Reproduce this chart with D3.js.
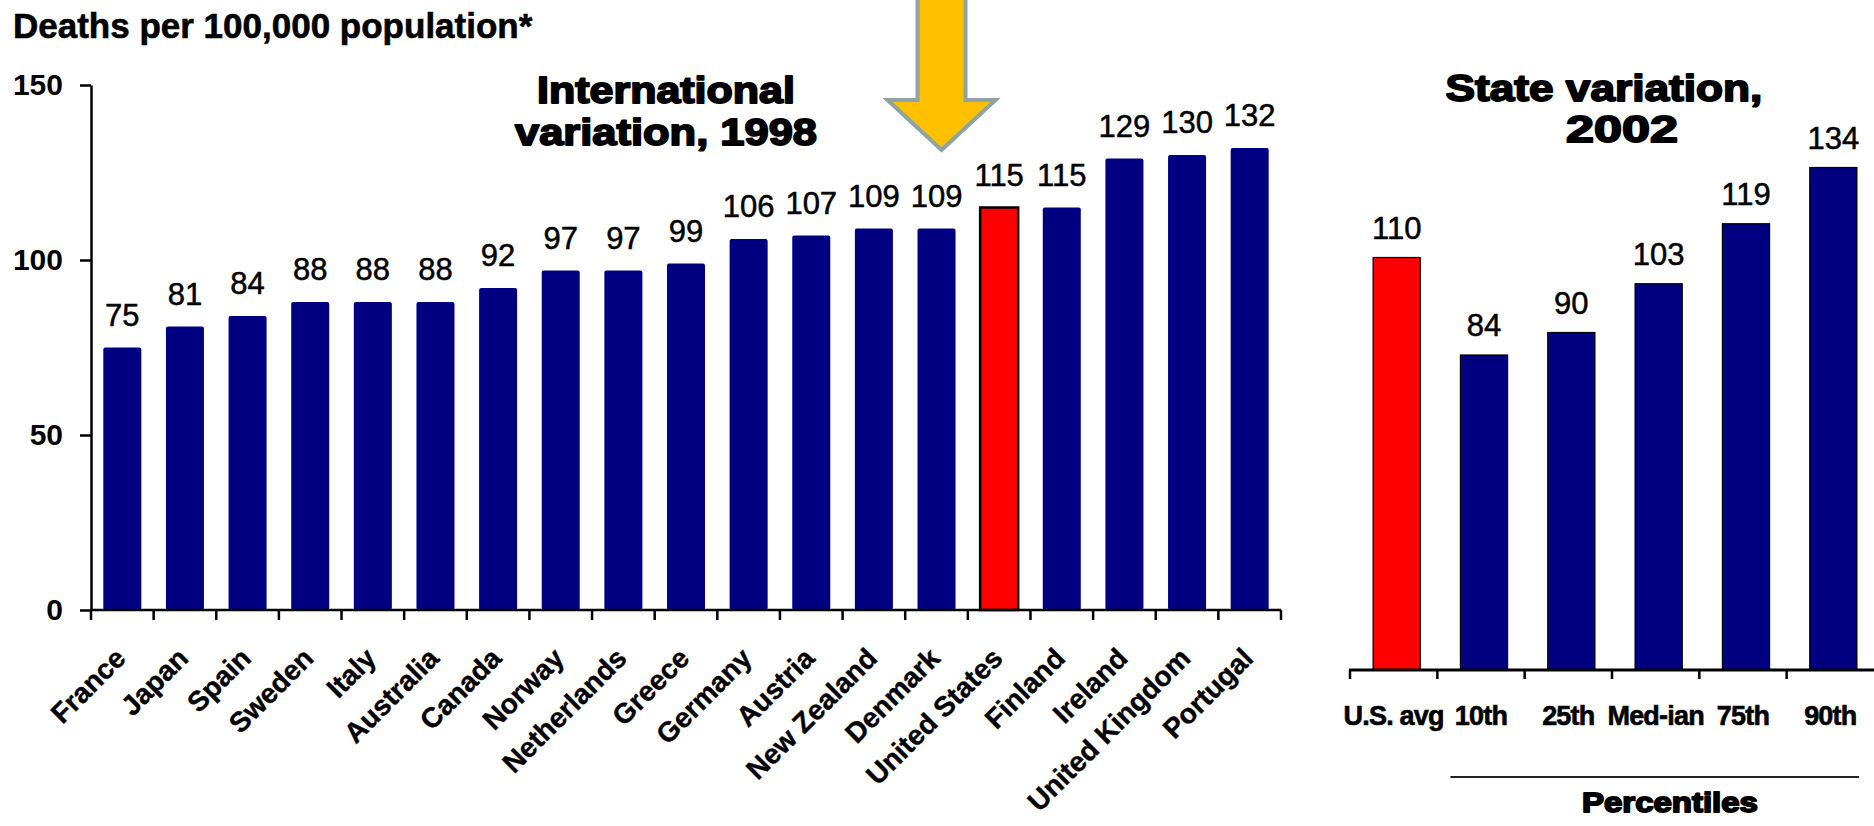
<!DOCTYPE html>
<html><head><meta charset="utf-8">
<script src="https://cdn.jsdelivr.net/npm/d3@7"></script>
<style>
body{margin:0;background:#fff;}
svg{display:block;font-family:"Liberation Sans",Arial,Helvetica,sans-serif;}
</style>
</head><body>
<svg id="c" width="1874" height="826"></svg>
<script>
// ---- data ----
const countries = ["France","Japan","Spain","Sweden","Italy","Australia","Canada","Norway","Netherlands","Greece","Germany","Austria","New Zealand","Denmark","United States","Finland","Ireland","United Kingdom","Portugal"];
const countryValues = [75,81,84,88,88,88,92,97,97,99,106,107,109,109,115,115,129,130,132];
const stateCategories = ["U.S. avg","10th","25th","Med-ian","75th","90th"];
const stateValues = [110,84,90,103,119,134];
const yTicks = [0,50,100,150];
const highlighted = ["United States","U.S. avg"];
const yTitle = "Deaths per 100,000 population*";
const leftTitle = ["International","variation, 1998"];
const rightTitle = ["State variation,","2002"];
const groupLabel = "Percentiles";
const arrowTarget = "Denmark";

// ---- styles ----
const NAVY = "#000080", RED = "#ff0000";
const svg = d3.select("#c");

// heavy (Arial Black-like) centred text: bold + stroke, glyphs stretched to a target width
function heavy(parent, str, cx, y, size, width){
  const t = parent.append("text").attr("x",0).attr("y",0)
    .attr("font-size",size).attr("font-weight","bold")
    .attr("stroke","#000").attr("stroke-width",1.8).attr("stroke-linejoin","round")
    .text(str);
  const w = t.node().getComputedTextLength();
  const s = width / w;
  t.attr("transform",`translate(${cx - width/2},${y}) scale(${s},1)`);
  return t;
}

// ---- y title ----
svg.append("text").attr("x",13).attr("y",38).attr("font-size",35).attr("font-weight","bold")
  .attr("stroke","#000").attr("stroke-width",0.6).text(yTitle);

// ================= LEFT CHART =================
const x1 = d3.scaleBand().domain(countries).range([91,1281]).paddingInner(0.393).paddingOuter(0.1965);
const y1 = d3.scaleLinear().domain([0,150]).range([610,85]);
const bw1 = x1.bandwidth();
const left = svg.append("g");
const d1 = countries.map((c,i)=>({c, v:countryValues[i]}));

left.selectAll("rect.bar").data(d1).join("rect")
  .attr("class","bar")
  .attr("x",d=>x1(d.c)).attr("y",d=>y1(d.v))
  .attr("width",bw1).attr("height",d=>y1(0)-y1(d.v))
  .attr("fill",d=>highlighted.includes(d.c)?RED:NAVY)
  .attr("stroke",d=>highlighted.includes(d.c)?"#000":"none")
  .attr("stroke-width",2.5)
  .attr("rx",d=>highlighted.includes(d.c)?0:2);

left.selectAll("text.val").data(d1).join("text")
  .attr("class","val")
  .attr("x",d=>x1(d.c)+bw1/2).attr("y",d=>y1(d.v)-22)
  .attr("text-anchor","middle").attr("font-size",31)
  .attr("stroke","#000").attr("stroke-width",0.5).text(d=>d.v);

// y axis
const yAxis = left.append("g").attr("transform","translate(91,0)")
  .call(d3.axisLeft(y1).tickValues(yTicks).tickSize(11).tickSizeOuter(0).tickPadding(17));
yAxis.select(".domain").attr("stroke","#000").attr("stroke-width",2.5);
yAxis.selectAll(".tick line").attr("stroke","#000").attr("stroke-width",2.5);
yAxis.selectAll(".tick text").attr("font-size",30).attr("font-weight","bold")
  .attr("font-family","'Liberation Sans',Arial,sans-serif").attr("fill","#000");

// x axis (category boundaries)
const step1 = x1.step(), half1 = step1*x1.paddingInner()/2;
const bounds1 = countries.map(c=>x1(c)-half1).concat([x1(countries[countries.length-1])+bw1+half1]);
left.append("line").attr("x1",x1.range()[0]).attr("x2",x1.range()[1])
  .attr("y1",y1(0)).attr("y2",y1(0)).attr("stroke","#000").attr("stroke-width",2.5);
left.selectAll("line.xt").data(bounds1).join("line").attr("class","xt")
  .attr("x1",d=>d).attr("x2",d=>d).attr("y1",y1(0)).attr("y2",y1(0)+10)
  .attr("stroke","#000").attr("stroke-width",2.5);
left.selectAll("text.xl").data(countries).join("text").attr("class","xl")
  .attr("transform",d=>`translate(${x1(d)+bw1/2+5},${y1(0)+50}) rotate(-45)`)
  .attr("text-anchor","end").attr("font-size",28).attr("font-weight","bold")
  .attr("stroke","#000").attr("stroke-width",0.4).text(d=>d);

// title
heavy(left, leftTitle[0], 666, 103, 37, 258);
heavy(left, leftTitle[1], 666, 145, 37, 302);

// arrow annotation
const ax = x1(arrowTarget)+bw1/2+5;
const arrowPts = [[ax-24,-6],[ax+24,-6],[ax+24,100],[ax+54,100],[ax,150],[ax-54,100],[ax-24,100]];
svg.append("polygon").attr("points",arrowPts.map(p=>p.join(",")).join(" "))
  .attr("fill","#FFC000").attr("stroke","#8ea3a3").attr("stroke-width",4).attr("stroke-linejoin","miter");

// ================= RIGHT CHART =================
const x2 = d3.scaleBand().domain(stateCategories).range([1353,1877]).paddingInner(0.46).paddingOuter(0.23);
const y2 = d3.scaleLinear().domain([0,150]).range([670,107.5]);
const bw2 = x2.bandwidth();
const right = svg.append("g");
const d2 = stateCategories.map((c,i)=>({c, v:stateValues[i]}));

right.selectAll("rect").data(d2).join("rect")
  .attr("x",d=>x2(d.c)).attr("y",d=>y2(d.v))
  .attr("width",bw2).attr("height",d=>y2(0)-y2(d.v))
  .attr("fill",d=>highlighted.includes(d.c)?RED:NAVY)
  .attr("stroke","#000").attr("stroke-width",1.2);

right.selectAll("text.val").data(d2).join("text").attr("class","val")
  .attr("x",d=>x2(d.c)+bw2/2).attr("y",d=>y2(d.v)-19)
  .attr("text-anchor","middle").attr("font-size",31)
  .attr("stroke","#000").attr("stroke-width",0.5).text(d=>d.v);

const step2 = x2.step(), half2 = step2*x2.paddingInner()/2;
const bounds2 = stateCategories.map(c=>x2(c)-half2);
right.append("line").attr("x1",x2.range()[0]-4).attr("x2",1874)
  .attr("y1",y2(0)).attr("y2",y2(0)).attr("stroke","#000").attr("stroke-width",3);
right.selectAll("line.xt").data(bounds2).join("line").attr("class","xt")
  .attr("x1",d=>d-3).attr("x2",d=>d-3).attr("y1",y2(0)).attr("y2",y2(0)+9)
  .attr("stroke","#000").attr("stroke-width",2.5);
right.selectAll("text.xl").data(stateCategories).join("text").attr("class","xl")
  .attr("x",d=>x2(d)+bw2/2-3).attr("y",725).attr("text-anchor","middle")
  .attr("font-size",27).attr("font-weight","bold").attr("letter-spacing",-0.8)
  .attr("stroke","#000").attr("stroke-width",0.6).text(d=>d);

// percentile bracket
right.append("line").attr("x1",x2(stateCategories[1])-10).attr("x2",1859)
  .attr("y1",777).attr("y2",777).attr("stroke","#222").attr("stroke-width",2);
heavy(right, groupLabel, 1670, 812, 28, 176);

// title
heavy(right, rightTitle[0], 1604, 101, 37, 317);
heavy(right, rightTitle[1], 1622, 142, 37, 112);
</script>
</body></html>
